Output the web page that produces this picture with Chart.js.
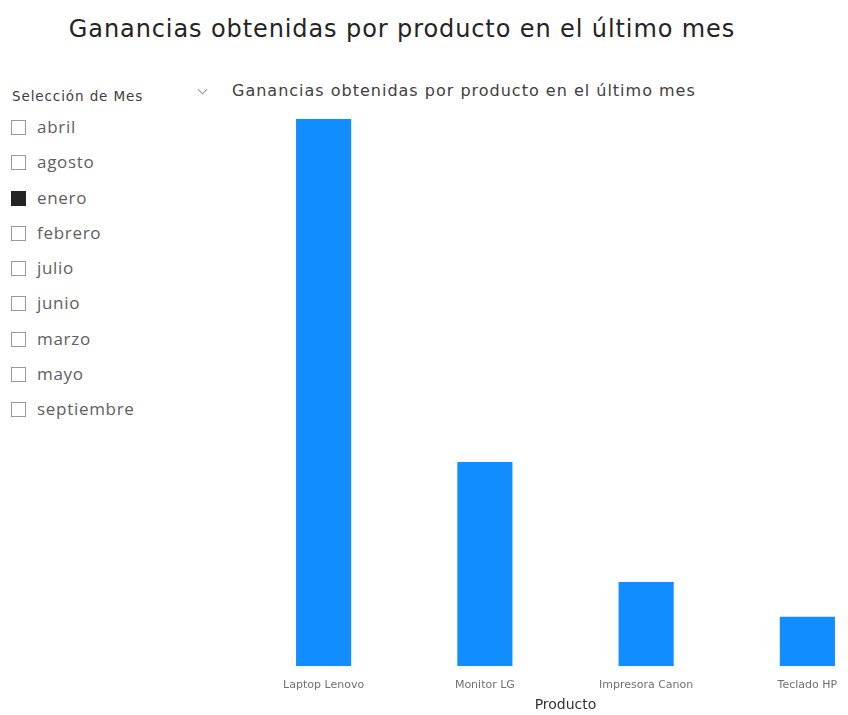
<!DOCTYPE html>
<html>
<head>
<meta charset="utf-8">
<script src="https://cdn.jsdelivr.net/npm/chart.js@4.4.0/dist/chart.umd.min.js"></script>
<style>
    html, body { margin: 0; padding: 0; background: #fff; overflow: hidden; }
    body { width: 848px; height: 715px; position: relative; }
    .page-title {
        position: absolute; left: 0; top: 15px; width: 804px; text-align: center;
        font-family: "DejaVu Sans", sans-serif; font-size: 24px; letter-spacing: 0.9px; color: #252423;
    }
    .slicer-head {
        position: absolute; left: 12px; top: 88px;
        font-family: "DejaVu Sans", sans-serif; font-size: 13.5px; letter-spacing: 0.9px; color: #404040;
    }
    .chevron {
        position: absolute; left: 199px; top: 86px; width: 6px; height: 6px;
        border-right: 1px solid #999; border-bottom: 1px solid #999; transform: rotate(45deg);
    }
    .visual-title {
        position: absolute; left: 232px; top: 81px;
        font-family: "DejaVu Sans", sans-serif; font-size: 16px; letter-spacing: 1px; color: #404040;
    }
    .slicer { position: absolute; left: 11px; top: 118px; }
    .item { height: 35.3px; display: flex; align-items: flex-start; font-family: "Open Sans", sans-serif; font-size: 17px; letter-spacing: 0.7px; color: #606060; }
    .box { width: 15px; height: 15px; border: 1px solid #9a9a9a; margin-right: 11px; margin-top: 2px; box-sizing: border-box; }
    .box.on { background: #252423; border-color: #252423; }
    .item span { line-height: 18px; }
    #wrap { position: absolute; left: 243px; top: 110px; width: 645px; height: 605px; }
</style>
</head>
<body>
<div class="page-title">Ganancias obtenidas por producto en el último mes</div>
<div class="slicer-head">Selección de Mes</div>
<div class="chevron"></div>
<div class="visual-title">Ganancias obtenidas por producto en el último mes</div>
<div class="slicer" id="slicer"></div>
<div id="wrap"><canvas id="myChart"></canvas></div>
<script>
const months = ["abril", "agosto", "enero", "febrero", "julio", "junio", "marzo", "mayo", "septiembre"];
const selectedMonths = ["enero"];

const products = ["Laptop Lenovo", "Monitor LG", "Impresora Canon", "Teclado HP"];
const profits = [1100, 410, 169, 99];

// slicer list
const slicer = document.getElementById("slicer");
months.forEach(m => {
    const row = document.createElement("div");
    row.className = "item";
    const box = document.createElement("div");
    box.className = "box" + (selectedMonths.includes(m) ? " on" : "");
    const label = document.createElement("span");
    label.textContent = m;
    row.appendChild(box);
    row.appendChild(label);
    slicer.appendChild(row);
});

const ctx = document.getElementById("myChart").getContext("2d");
new Chart(ctx, {
    type: "bar",
    data: {
        labels: products,
        datasets: [
            {
                label: "Ganancias",
                data: profits,
                backgroundColor: "#118DFF",
                categoryPercentage: 1,
                barPercentage: 0.342,
            },
        ],
    },
    options: {
        responsive: true,
        maintainAspectRatio: false,
        animation: false,
        layout: { padding: { top: 9, left: 0, right: 0, bottom: 0 } },
        plugins: {
            legend: { display: false },
            tooltip: { enabled: false },
        },
        scales: {
            x: {
                grid: { display: false },
                border: { display: false },
                ticks: {
                    color: "#707070",
                    font: { family: "DejaVu Sans", size: 11 },
                    padding: 5,
                    maxRotation: 0,
                    autoSkip: false,
                },
                title: {
                    display: true,
                    text: "Producto",
                    color: "#333",
                    font: { family: "DejaVu Sans", size: 14 },
                    padding: { top: 0, bottom: 1 },
                },
            },
            y: {
                display: false,
                min: 0,
                max: 1100,
            },
        },
    },
});
</script>
</body>
</html>
